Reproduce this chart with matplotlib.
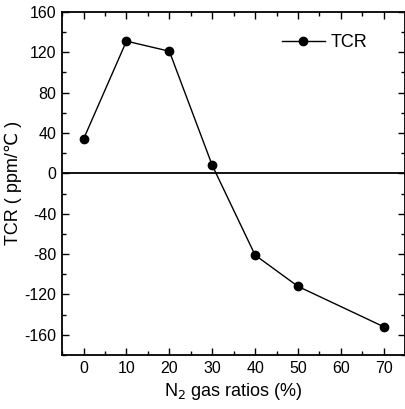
import matplotlib.pyplot as plt
from matplotlib.ticker import MultipleLocator

plt.rcParams['font.family'] = ['Liberation Sans', 'DejaVu Sans']
plt.rcParams['axes.unicode_minus'] = False

n2_ratio = [0, 10, 20, 30, 40, 50, 70]
tcr = [34, 131, 121, 8, -81, -112, -152]

fig = plt.figure(figsize=(4.06, 4.09), dpi=100)
ax = fig.add_axes([0.153, 0.132, 0.845, 0.839])

ax.axhline(0, color='black', lw=1.3, zorder=1)
ax.plot(n2_ratio, tcr, '-o', color='black', lw=1.0, ms=6, label='TCR', zorder=3)

ax.set_xlim(-5, 75)
ax.set_ylim(-180, 160)
ax.xaxis.set_major_locator(MultipleLocator(10))
ax.xaxis.set_minor_locator(MultipleLocator(5))
ax.yaxis.set_major_locator(MultipleLocator(40))
ax.yaxis.set_minor_locator(MultipleLocator(20))
ax.tick_params(which='both', direction='in', top=True, right=True, labelsize=11.5)
ax.tick_params(which='major', length=5, width=1, pad=4)
ax.tick_params(which='minor', length=3, width=1)
for s in ax.spines.values():
    s.set_linewidth(1.3)

ax.set_xlabel('N$_2$ gas ratios (%)', fontsize=13)
ax.set_ylabel('TCR ( ppm/\u2103 )', fontsize=13, labelpad=2)

ax.legend(loc='center left', bbox_to_anchor=(0.64, 0.91), frameon=False,
          fontsize=13, handlelength=2.4, handletextpad=0.3, borderpad=0,
          borderaxespad=0)

fig.savefig('out.png', dpi=100)
